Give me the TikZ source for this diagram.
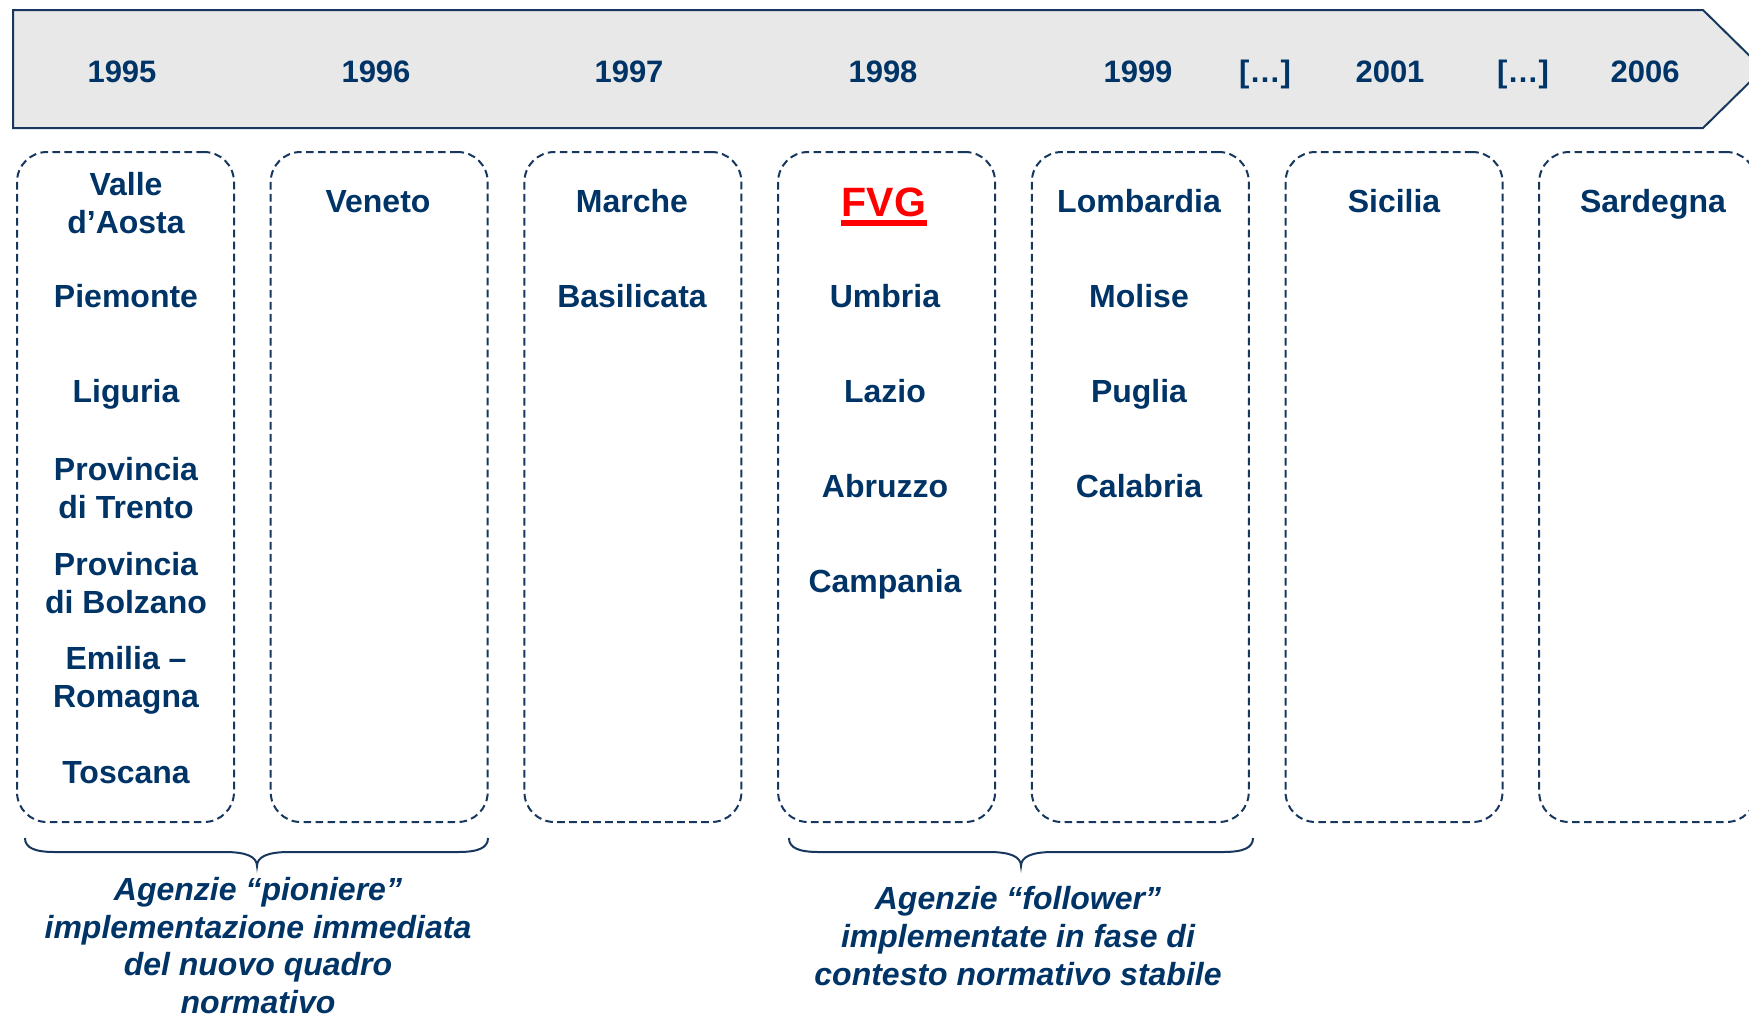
\documentclass[tikz,border=0pt]{standalone}
\usepackage{fontspec}
\setmainfont{Liberation Sans}
\definecolor{navy}{HTML}{003366}
\definecolor{bordercol}{HTML}{17375E}
\definecolor{bannerfill}{HTML}{E8E8E8}
\begin{document}
\begin{tikzpicture}[x=0.5pt,y=-0.5pt,
  year/.style={text=navy,font=\fontsize{15.5}{18}\selectfont\bfseries,anchor=base,inner sep=0pt},
  reg/.style={text=navy,font=\fontsize{16}{18.7}\selectfont\bfseries,anchor=base,align=center,inner sep=0pt},
  regbox/.style={draw=bordercol,line width=1pt,dash pattern=on 3.8pt off 2.2pt,rounded corners=15pt,minimum width=108.5pt,minimum height=335pt,inner sep=0pt},
  note/.style={text=navy,font=\fontsize{16}{18.8}\selectfont\bfseries\itshape,anchor=base,align=center,inner sep=0pt},
  bracecol/.style={draw=bordercol,line width=1pt}
]
\useasboundingbox (0,0) rectangle (1749,1018);
\clip (0,0) rectangle (1749,1018);
% banner
\coordinate (bA) at (13,10);
\coordinate (bB) at (1703,10);
\coordinate (bC) at (1763,69);
\coordinate (bD) at (1703,128);
\coordinate (bE) at (13,128);
\draw[bordercol,line width=1pt,fill=bannerfill] (bA) -- (bB) -- (bC) -- (bD) -- (bE) -- cycle;
% years
\node[year] (y1) at (122,82) {1995};
\node[year] (y2) at (376,82) {1996};
\node[year] (y3) at (629,82) {1997};
\node[year] (y4) at (883,82) {1998};
\node[year] (y5) at (1138,82) {1999};
\node[year] (y6) at (1265,82) {[…]};
\node[year] (y7) at (1390,82) {2001};
\node[year] (y8) at (1523,82) {[…]};
\node[year] (y9) at (1645,82) {2006};
% boxes
\node[regbox] (b1) at (125.5,487) {};
\node[regbox] (b2) at (379.2,487) {};
\node[regbox] (b3) at (632.9,487) {};
\node[regbox] (b4) at (886.6,487) {};
\node[regbox] (b5) at (1140.3,487) {};
\node[regbox] (b6) at (1394,487) {};
\node[regbox] (b7) at (1647.7,487) {};
% box 1 (anchor base = baseline of the last line)
\node[reg] (r11) at (126,233) {Valle\\d’Aosta};
\node[reg] (r12) at (126,307) {Piemonte};
\node[reg] (r13) at (126,402) {Liguria};
\node[reg] (r14) at (126,518) {Provincia\\di Trento};
\node[reg] (r15) at (126,613) {Provincia\\di Bolzano};
\node[reg] (r16) at (126,707) {Emilia –\\Romagna};
\node[reg] (r17) at (126,783) {Toscana};
% box 2
\node[reg] (r21) at (378,212) {Veneto};
% box 3
\node[reg] (r31) at (632,212) {Marche};
\node[reg] (r32) at (632,307) {Basilicata};
% box 4
\node[reg,text=red,font=\fontsize{20.5}{24}\selectfont\bfseries] (fvg) at (884,216) {FVG};
\draw[red,line width=2.8pt] ([yshift=-3.5pt]fvg.base west) -- ([yshift=-3.5pt]fvg.base east);
\node[reg] (r42) at (885,307) {Umbria};
\node[reg] (r43) at (885,402) {Lazio};
\node[reg] (r44) at (885,497) {Abruzzo};
\node[reg] (r45) at (885,592) {Campania};
% box 5
\node[reg] (r51) at (1139,212) {Lombardia};
\node[reg] (r52) at (1139,307) {Molise};
\node[reg] (r53) at (1139,402) {Puglia};
\node[reg] (r54) at (1139,497) {Calabria};
% box 6
\node[reg] (r61) at (1394,212) {Sicilia};
% box 7
\node[reg] (r71) at (1653,212) {Sardegna};
% braces
\coordinate (p1s) at (25,838);
\coordinate (p1t) at (257,866);
\coordinate (p1e) at (488,838);
\draw[bracecol] (p1s) .. controls (25,848) and (35,852) .. (55,852) -- (225,852)
  .. controls (247,852) and (257,857) .. (p1t)
  .. controls (257,857) and (267,852) .. (289,852) -- (458,852)
  .. controls (478,852) and (488,848) .. (p1e);
\coordinate (p2s) at (789,838);
\coordinate (p2t) at (1021,866);
\coordinate (p2e) at (1253,838);
\draw[bracecol] (p2s) .. controls (789,848) and (799,852) .. (819,852) -- (989,852)
  .. controls (1011,852) and (1021,857) .. (p2t)
  .. controls (1021,857) and (1031,852) .. (1053,852) -- (1223,852)
  .. controls (1243,852) and (1253,848) .. (p2e);
% notes (anchor base = baseline of the last line)
\node[note] (n1) at (258,1013.5) {Agenzie “pioniere”\\implementazione immediata\\del nuovo quadro\\normativo};
\node[note] (n2) at (1018,985) {Agenzie “follower”\\implementate in fase di\\contesto normativo stabile};
\end{tikzpicture}
\end{document}
